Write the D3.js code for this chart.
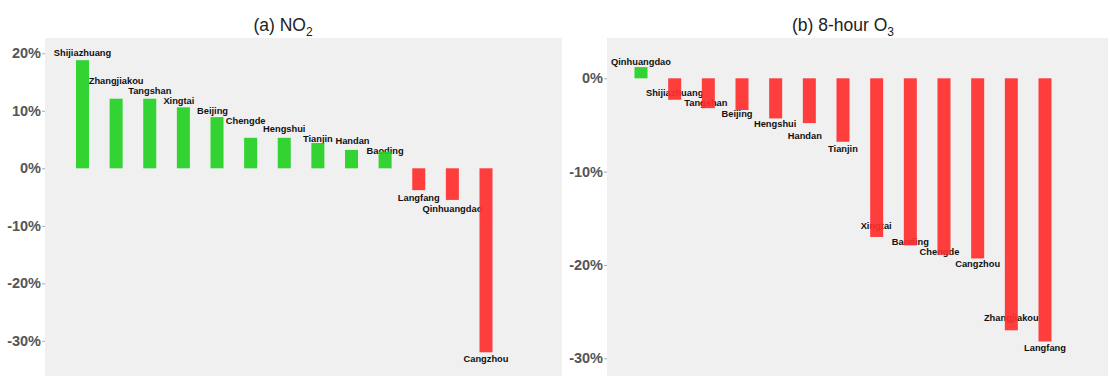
<!DOCTYPE html>
<html><head><meta charset="utf-8">
<script src="https://cdn.jsdelivr.net/npm/d3@7"></script>
<style>body{margin:0;background:#fff}svg{display:block}</style>
</head><body>
<svg id="chart" width="1110" height="378"></svg>
<script>
// ---- data ----
const citiesNO2 = ["Shijiazhuang","Zhangjiakou","Tangshan","Xingtai","Beijing","Chengde","Hengshui","Tianjin","Handan","Baoding","Langfang","Qinhuangdao","Cangzhou"];
const valuesNO2 = [18.8, 12.1, 12.1, 10.6, 8.9, 5.3, 5.3, 4.4, 3.2, 2.9, -3.8, -5.5, -32.0];
const ticksNO2 = [20, 10, 0, -10, -20, -30];

const citiesO3 = ["Qinhuangdao","Shijiazhuang","Tangshan","Beijing","Hengshui","Handan","Tianjin","Xingtai","Baoding","Chengde","Cangzhou","Zhangjiakou","Langfang"];
const valuesO3 = [1.2, -2.3, -3.2, -3.4, -4.3, -4.8, -6.8, -17.0, -17.9, -18.9, -19.3, -27.0, -28.2];
const ticksO3 = [0, -10, -20, -30];

// label nudges (px, layout only, as placed by label repulsion)
const nudgeNO2 = [[0,-7.7],[0,-17.5],[0,-8],[-4.5,-6.3],[-4.5,-6.3],[-5,-16.7],[0,-8.7],[0,-4.3],[1,-9],[0,-0.7],[0,7.5],[0,9],[0,6.3]];
const nudgeO3 = [[0,-5.7],[0,-7.5],[-2.5,-5],[-5,3.5],[-0.5,5],[-4.5,12.5],[0,7.3],[-0.5,-11.7],[0,-4],[-4.5,-3],[0,5.5],[0,-12.5],[0,5.8]];

const svg = d3.select("#chart");
const GREEN = "#22d022", RED = "#ff2e2e";

function panel(opt) {
  const g = svg.append("g");
  g.append("rect").attr("x", opt.px0).attr("y", 38).attr("width", opt.px1 - opt.px0).attr("height", 338).attr("fill", "#f0f0f0");
  const x = d3.scalePoint().domain(opt.cities).range(opt.xr);
  const y = d3.scaleLinear().domain(opt.yd).range(opt.yr);
  const bw = 13;
  // axis
  const ax = g.append("g").attr("transform", `translate(${opt.px0},0)`)
    .call(d3.axisLeft(y).tickValues(opt.ticks).tickFormat(d => d + "%").tickSize(3).tickPadding(1));
  ax.select(".domain").remove();
  ax.selectAll(".tick line").attr("stroke", "#aaa");
  ax.selectAll(".tick text").attr("fill", "#555").style("font-family", "Liberation Sans, Arial, sans-serif").style("font-size", "14.5px").style("font-weight", "bold");
  // labels (under bars)
  g.selectAll("text.lab").data(opt.cities).enter().append("text").attr("class", "lab")
    .attr("x", (d, i) => x(d) + opt.nudge[i][0])
    .attr("y", (d, i) => y(opt.values[i]) + opt.nudge[i][1])
    .attr("dy", "0.35em").attr("text-anchor", "middle")
    .style("font-family", "Liberation Sans, Arial, sans-serif").style("font-size", "9.3px").style("font-weight", "bold")
    .attr("fill", "#111").text(d => d);
  // bars
  g.selectAll("rect.bar").data(opt.cities).enter().append("rect").attr("class", "bar")
    .attr("x", d => x(d) - bw / 2).attr("width", bw)
    .attr("y", (d, i) => Math.min(y(0), y(opt.values[i])))
    .attr("height", (d, i) => Math.abs(y(opt.values[i]) - y(0)))
    .attr("fill", (d, i) => opt.values[i] >= 0 ? GREEN : RED).attr("fill-opacity", 0.92);
  // title
  const t = g.append("text").attr("x", opt.tx).attr("y", 31).attr("text-anchor", "middle")
    .style("font-family", "Liberation Sans, Arial, sans-serif").style("font-size", "17.5px").attr("fill", "#222");
  t.append("tspan").text(opt.title);
  t.append("tspan").attr("dy", 5).style("font-size", "12px").text(opt.sub);
}

panel({cities: citiesNO2, values: valuesNO2, ticks: ticksNO2, nudge: nudgeNO2,
  px0: 45, px1: 562, xr: [82.5, 486], yd: [0, 20], yr: [168.3, 53.3], tx: 283, title: "(a) NO", sub: "2"});
panel({cities: citiesO3, values: valuesO3, ticks: ticksO3, nudge: nudgeO3,
  px0: 607, px1: 1108, xr: [641, 1045], yd: [0, -30], yr: [78.3, 358.3], tx: 843, title: "(b) 8-hour O", sub: "3"});
</script>
</body></html>
